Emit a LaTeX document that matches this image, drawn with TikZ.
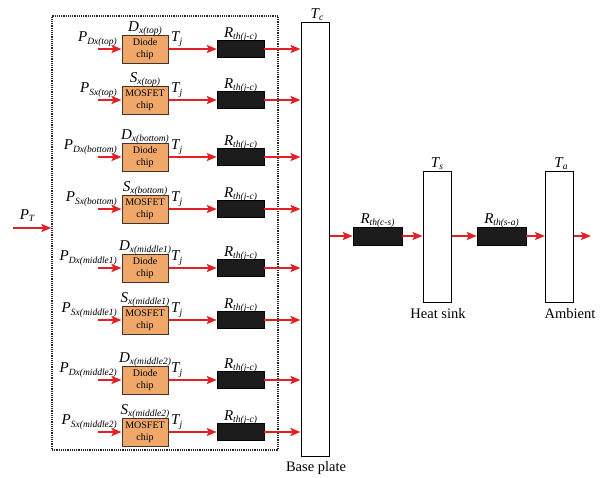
\documentclass[tikz,border=0pt]{standalone}
\usepackage{fontspec}
\setmainfont{Liberation Serif}
\usetikzlibrary{arrows.meta}
\definecolor{flowred}{RGB}{228,32,36}
\definecolor{chipfill}{RGB}{240,168,106}
\definecolor{chipedge}{RGB}{70,50,40}
\definecolor{rfill}{RGB}{28,28,28}
\newcommand{\lab}[2]{{\fontsize{15}{15}\selectfont\itshape #1}\raisebox{-2.5pt}{\fontsize{9.5}{9.5}\selectfont\itshape #2}}
\begin{document}
\begin{tikzpicture}[x=1pt,y=-1pt,
 flow/.style={draw=flowred, line width=2.6pt, -{Stealth[length=10pt,width=8pt,inset=2pt]}},
 chip/.style={draw=chipedge, fill=chipfill, line width=1pt, minimum width=46pt, minimum height=28pt, inner sep=0pt, align=center, font=\fontsize{10}{12.5}\selectfont},
 rbox/.style={draw=black, fill=rfill, minimum width=47pt, minimum height=17pt, inner sep=0pt},
 tank/.style={draw=black, line width=1pt, minimum width=28pt, inner sep=0pt},
 lbl/.style={inner sep=0pt},
 tlabel/.style={inner sep=0pt, font=\fontsize{14.5}{14.5}\selectfont}]
\useasboundingbox (0,0) rectangle (609,477);
% dotted group
\node[draw=black!85, densely dotted, line width=1.2pt, minimum width=226pt, minimum height=434pt, inner sep=0pt] (grp) at (165,233) {};
% base plate, heat sink, ambient
\node[tank, minimum height=434pt] (bp) at (315,239) {};
\node[tank, minimum height=131pt] (hs) at (437,236.5) {};
\node[tank, minimum height=131pt] (amb) at (559.5,236.5) {};
\node[lbl, anchor=base] (tc) at (317,18) {\lab{T}{c}};
\node[lbl, anchor=base] (ts) at (437,167) {\lab{T}{s}};
\node[lbl, anchor=base] (ta) at (561,167) {\lab{T}{a}};
\node[tlabel, anchor=base] (bpl) at (316,471) {Base plate};
\node[tlabel, anchor=base] (hsl) at (438,318) {Heat sink};
\node[tlabel, anchor=base] (ambl) at (570,318) {Ambient};
% rows
\foreach \y/\i/\k/\n/\t in {49/1/D/top/Diode, 100/2/S/top/MOSFET, 157/3/D/bottom/Diode, 209/4/S/bottom/MOSFET, 268/5/D/middle1/Diode, 320/6/S/middle1/MOSFET, 380/7/D/middle2/Diode, 432/8/S/middle2/MOSFET}{
  \node[chip] (c\i) at (145,\y) {\t\\chip};
  \node[rbox] (r\i) at (240.5,\y) {};
  \coordinate (in\i) at (98,\y);
  \node[lbl, anchor=base east] (p\i) at (117,\y-7.5) {\lab{P}{\k x(\n)}};
  \node[lbl, anchor=base] (d\i) at (145,\y-18) {\lab{\k}{x(\n)}};
  \node[lbl, anchor=base west] (tj\i) at (171,\y-7.5) {\lab{T}{j}};
  \node[lbl, anchor=base] (rl\i) at (240.5,\y-12) {\lab{R}{th(j-c)}};
  \draw[flow] (in\i) -- (c\i.west);
  \draw[flow] (c\i.east) -- (r\i.west);
  \draw[flow] (r\i.east) -- (r\i.east -| bp.west);
}
% P_T
\coordinate (pt0) at (13,228);
\draw[flow] (pt0) -- (pt0 -| grp.west);
\node[lbl, anchor=base] (ptl) at (27,219) {\lab{P}{T}};
% right chain
\node[rbox, minimum width=49pt, minimum height=18pt] (rcs) at (377.5,236) {};
\node[rbox, minimum width=49pt, minimum height=18pt] (rsa) at (501.5,236) {};
\node[lbl, anchor=base] (rcsl) at (377.5,223) {\lab{R}{th(c-s)}};
\node[lbl, anchor=base] (rsal) at (501.5,223) {\lab{R}{th(s-a)}};
\coordinate (out) at (591,236);
\draw[flow] (rcs.west -| bp.east) -- (rcs.west);
\draw[flow] (rcs.east) -- (rcs.east -| hs.west);
\draw[flow] (rsa.west -| hs.east) -- (rsa.west);
\draw[flow] (rsa.east) -- (rsa.east -| amb.west);
\draw[flow] (out -| amb.east) -- (out);
\end{tikzpicture}
\end{document}
